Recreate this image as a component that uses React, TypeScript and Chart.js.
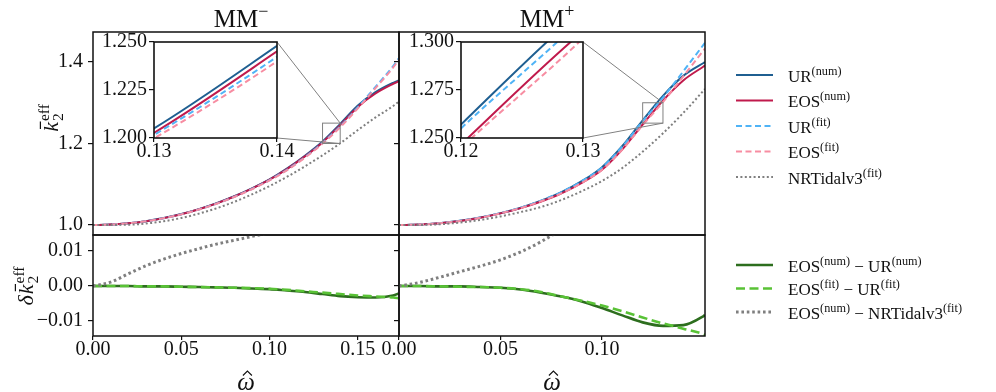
import React, { useEffect, useRef } from "react";
import { Chart, registerables } from "chart.js";

Chart.register(...registerables);

const SERIF = "'Liberation Serif', 'Times New Roman', Times, serif";
Chart.defaults.font.family = SERIF;

// ---------------- DATA ----------------
const OMEGA_MINUS = [0, 0.01, 0.02, 0.03, 0.04, 0.05, 0.06, 0.07, 0.08, 0.09, 0.1, 0.11, 0.12, 0.13, 0.14, 0.15, 0.16, 0.17, 0.1733];
const UR_NUM_MINUS = [1.0, 1.001, 1.0042, 1.0095, 1.017, 1.0268, 1.039, 1.0535, 1.0705, 1.09, 1.112, 1.139, 1.17, 1.205, 1.248, 1.293, 1.326, 1.349, 1.355];
const EOS_NUM_MINUS = [1.0, 1.001, 1.0042, 1.0094, 1.0169, 1.0266, 1.0387, 1.0531, 1.07, 1.0893, 1.1111, 1.1377, 1.1683, 1.2027, 1.2451, 1.2898, 1.3227, 1.3463, 1.3529];
const UR_FIT_MINUS = [1.0, 1.001, 1.0041, 1.0093, 1.0167, 1.0263, 1.0382, 1.0525, 1.0692, 1.0884, 1.1102, 1.136, 1.1665, 1.2016, 1.2423, 1.289, 1.339, 1.39, 1.4095];
const EOS_FIT_MINUS = [1.0, 1.001, 1.0041, 1.0092, 1.0166, 1.0261, 1.0379, 1.0521, 1.0687, 1.0878, 1.1094, 1.1349, 1.165, 1.1998, 1.2399, 1.2862, 1.3359, 1.3866, 1.406];
const NRT_MINUS = [1.0, 1.0002, 1.0007, 1.0036, 1.0091, 1.0173, 1.028, 1.0411, 1.0569, 1.0751, 1.0956, 1.1185, 1.144, 1.171, 1.2005, 1.233, 1.264, 1.292, 1.303];
const DIFF_NUM_MINUS = [0, 0, 0, -0.0001, -0.0001, -0.0002, -0.0003, -0.0004, -0.0005, -0.0007, -0.0009, -0.0013, -0.0017, -0.0023, -0.0029, -0.0032, -0.0033, -0.0027, -0.0021];
const DIFF_FIT_MINUS = [0, 0, 0, -0.0001, -0.0001, -0.0002, -0.0003, -0.0004, -0.0005, -0.0006, -0.0008, -0.0011, -0.0015, -0.0019, -0.0023, -0.0027, -0.003, -0.0033, -0.0035];
const DIFF_NRT_MINUS = [0, 0.0011, 0.0035, 0.0058, 0.0077, 0.0093, 0.0107, 0.012, 0.0131, 0.0142, 0.0155, 0.0192, 0.0243, 0.0317, 0.0446, 0.0568, 0.0587, 0.0543, 0.0499];

const OMEGA_PLUS = [0, 0.01, 0.02, 0.03, 0.04, 0.05, 0.06, 0.07, 0.08, 0.09, 0.1, 0.11, 0.12, 0.13, 0.14, 0.15, 0.1507];
const UR_NUM_PLUS = [1.0, 1.0011, 1.0045, 1.0102, 1.0183, 1.029, 1.0425, 1.0595, 1.0805, 1.1075, 1.142, 1.194, 1.257, 1.317, 1.366, 1.3975, 1.3995];
const EOS_NUM_PLUS = [1.0, 1.0011, 1.0044, 1.0101, 1.018, 1.0285, 1.0415, 1.0576, 1.0775, 1.1031, 1.1357, 1.1856, 1.2466, 1.3056, 1.3548, 1.3889, 1.3912];
const UR_FIT_PLUS = [1.0, 1.0011, 1.0045, 1.0102, 1.0183, 1.0292, 1.0428, 1.06, 1.0808, 1.1075, 1.1413, 1.1925, 1.255, 1.3125, 1.377, 1.4425, 1.447];
const EOS_FIT_PLUS = [1.0, 1.0011, 1.0044, 1.01, 1.018, 1.0287, 1.0419, 1.0583, 1.0778, 1.1033, 1.1357, 1.1853, 1.245, 1.3018, 1.3648, 1.4287, 1.433];
const NRT_PLUS = [1.0, 1.0001, 1.0019, 1.0061, 1.0124, 1.0211, 1.032, 1.0444, 1.0615, 1.083, 1.108, 1.14, 1.18, 1.225, 1.275, 1.33, 1.334];
const DIFF_NUM_PLUS = [0, 0, -0.0001, -0.0001, -0.0003, -0.0005, -0.001, -0.0019, -0.003, -0.0044, -0.0063, -0.0084, -0.0104, -0.0114, -0.0112, -0.0086, -0.0083];
const DIFF_FIT_PLUS = [0, 0, -0.0001, -0.0002, -0.0003, -0.0005, -0.0009, -0.0017, -0.003, -0.0042, -0.0056, -0.0072, -0.009, -0.0107, -0.0122, -0.0138, -0.014];
const DIFF_NRT_PLUS = [0, 0.001, 0.0025, 0.0041, 0.0057, 0.0075, 0.0098, 0.0127, 0.0164, 0.0215, 0.0300, 0.0440, 0.0600, 0.0760, 0.0798, 0.0589, 0.0572];

const TOP_LABELS = ["UR^{(num)}", "EOS^{(num)}", "UR^{(fit)}", "EOS^{(fit)}", "NRTidalv3^{(fit)}"];
const BOTTOM_LABELS = ["EOS^{(num)} \u2212 UR^{(num)}", "EOS^{(fit)} \u2212 UR^{(fit)}", "EOS^{(num)} \u2212 NRTidalv3^{(fit)}"];
const PANEL_TITLES = ["MM^{\u2212}", "MM^{+}"];

const TOP_Y_TICKS = [1.0, 1.2, 1.4];
const BOTTOM_Y_TICKS = [-0.01, 0, 0.01];
const X_TICKS_MINUS = [0, 0.05, 0.1, 0.15];
const X_TICKS_PLUS = [0, 0.05, 0.1];
const INSET_MINUS_X_TICKS = [0.13, 0.14];
const INSET_MINUS_Y_TICKS = [1.2, 1.225, 1.25];
const INSET_PLUS_X_TICKS = [0.12, 0.13];
const INSET_PLUS_Y_TICKS = [1.25, 1.275, 1.3];

const TOP_Y_RANGE = [0.9755, 1.4736];
const BOTTOM_Y_RANGE = [-0.0143, 0.0146];
const X_RANGE_MINUS = [0, 0.1733];
const X_RANGE_PLUS = [0, 0.1507];
const INSET_MINUS_X = [0.13, 0.14];
const INSET_MINUS_Y = [1.2, 1.25];
const INSET_PLUS_X = [0.12, 0.13];
const INSET_PLUS_Y = [1.25, 1.3];

// ---------------- STYLES / LAYOUT ----------------
type St = { color: string; width: number; dash: number[] };
const TOP_STYLES: St[] = [
  { color: "#1f5f91", width: 2, dash: [] },
  { color: "#c01a4c", width: 2, dash: [] },
  { color: "#4fb3f6", width: 2, dash: [6, 3.5] },
  { color: "#f78da2", width: 2, dash: [6, 3.5] },
  { color: "#7f7f7f", width: 2, dash: [2, 2.4] },
];
const BOTTOM_STYLES: St[] = [
  { color: "#2d6e1e", width: 2.6, dash: [] },
  { color: "#59c236", width: 2.6, dash: [9, 4.5] },
  { color: "#7f7f7f", width: 3, dash: [2.6, 2.8] },
];

const TEXT = "#111";
const TICK_FONT = { family: SERIF, size: 20, lineHeight: 1 };

type Area = { l: number; t: number; r: number; b: number };
type Box = { left: number; top: number; width: number; height: number };

const AREA_TL: Area = { l: 93, t: 32, r: 399, b: 235 };
const AREA_TR: Area = { l: 399, t: 32, r: 705, b: 235 };
const AREA_BL: Area = { l: 93, t: 235, r: 399, b: 336 };
const AREA_BR: Area = { l: 399, t: 235, r: 705, b: 336 };
const INSET_BOX_L: Area = { l: 154, t: 42, r: 277, b: 138 };
const INSET_BOX_R: Area = { l: 461, t: 42, r: 583, b: 138 };

const fmt = (v: number, d: number) => (v < -1e-12 ? "\u2212" : "") + Math.abs(v).toFixed(d);

function lineDs(label: string, xs: number[], ys: number[], st: St, order: number) {
  return {
    label,
    data: xs.map((x, i) => ({ x, y: ys[i] })),
    borderColor: st.color,
    backgroundColor: st.color,
    borderWidth: st.width,
    borderDash: st.dash,
    borderCapStyle: "butt",
    pointRadius: 0,
    pointHoverRadius: 0,
    fill: false,
    cubicInterpolationMode: "monotone",
    order,
  };
}

function topSets(xs: number[], series: number[][]) {
  return series.map((ys, i) => lineDs(TOP_LABELS[i], xs, ys, TOP_STYLES[i], series.length - i));
}
function bottomSets(xs: number[], series: number[][]) {
  return series.map((ys, i) => lineDs(BOTTOM_LABELS[i], xs, ys, BOTTOM_STYLES[i], series.length - i));
}

// rich text: "^{...}" = superscript
function richSegs(text: string) {
  return text
    .split(/(\^\{[^}]*\})/)
    .filter((p) => p.length > 0)
    .map((p) => (p.startsWith("^{") ? { t: p.slice(2, -1), sup: true } : { t: p, sup: false }));
}
function drawRich(ctx: CanvasRenderingContext2D, text: string, x: number, y: number, size: number, align: "left" | "center") {
  const segs = richSegs(text);
  const supSize = size * 0.72;
  ctx.save();
  ctx.fillStyle = TEXT;
  ctx.textBaseline = "alphabetic";
  ctx.textAlign = "left";
  const widths = segs.map((s) => {
    ctx.font = `${s.sup ? supSize : size}px ${SERIF}`;
    return ctx.measureText(s.t).width;
  });
  const total = widths.reduce((a, b) => a + b, 0);
  let cx = align === "center" ? x - total / 2 : x;
  segs.forEach((s, i) => {
    ctx.font = `${s.sup ? supSize : size}px ${SERIF}`;
    ctx.fillText(s.t, cx, s.sup ? y - size * 0.4 : y);
    cx += widths[i];
  });
  ctx.restore();
}

function drawYLabel(ctx: CanvasRenderingContext2D, cx: number, cy: number, delta: boolean) {
  const size = 22;
  const small = 15.5;
  ctx.save();
  ctx.translate(cx, cy);
  ctx.rotate(-Math.PI / 2);
  ctx.fillStyle = TEXT;
  ctx.strokeStyle = TEXT;
  ctx.textBaseline = "alphabetic";
  ctx.textAlign = "left";
  const it = `italic ${size}px ${SERIF}`;
  const rm = `${small}px ${SERIF}`;
  ctx.font = it;
  const wd = delta ? ctx.measureText("\u03b4").width + 1 : 0;
  const wk = ctx.measureText("k").width;
  ctx.font = rm;
  const ws = Math.max(ctx.measureText("2").width, ctx.measureText("eff").width);
  const total = wd + wk + 1 + ws;
  let x = -total / 2;
  ctx.font = it;
  if (delta) {
    ctx.fillText("\u03b4", x, 0);
    x += wd;
  }
  ctx.fillText("k", x, 0);
  ctx.lineWidth = 1.2;
  ctx.beginPath();
  ctx.moveTo(x + wk * 0.3, -size * 0.8);
  ctx.lineTo(x + wk * 1.05, -size * 0.8);
  ctx.stroke();
  x += wk + 1;
  ctx.font = rm;
  ctx.fillText("2", x, size * 0.24);
  ctx.fillText("eff", x, -size * 0.42);
  ctx.restore();
}

function drawXLabel(ctx: CanvasRenderingContext2D, cx: number, by: number) {
  const size = 25;
  ctx.save();
  ctx.fillStyle = TEXT;
  ctx.strokeStyle = TEXT;
  ctx.font = `italic ${size}px ${SERIF}`;
  ctx.textBaseline = "alphabetic";
  ctx.textAlign = "center";
  const w = ctx.measureText("\u03c9").width;
  ctx.fillText("\u03c9", cx, by);
  const hx = cx + w * 0.08;
  ctx.lineWidth = 1.1;
  ctx.beginPath();
  ctx.moveTo(hx - 4.5, by - 14.5);
  ctx.lineTo(hx, by - 19);
  ctx.lineTo(hx + 4.5, by - 14.5);
  ctx.stroke();
  ctx.restore();
}

function drawZoom(ctx: CanvasRenderingContext2D, chart: any, xr: number[], yr: number[], inset: Area, ox: number, oy: number) {
  const xs = chart.scales.x;
  const ys = chart.scales.y;
  const x0 = xs.getPixelForValue(xr[0]);
  const x1 = xs.getPixelForValue(xr[1]);
  const y0 = ys.getPixelForValue(yr[1]);
  const y1 = ys.getPixelForValue(yr[0]);
  ctx.save();
  ctx.strokeStyle = "#808080";
  ctx.lineWidth = 1;
  ctx.strokeRect(x0, y0, x1 - x0, y1 - y0);
  ctx.beginPath();
  ctx.moveTo(inset.r - ox, inset.t - oy);
  ctx.lineTo(x1, y0);
  ctx.moveTo(inset.r - ox, inset.b - oy);
  ctx.lineTo(x1, y1);
  ctx.stroke();
  ctx.restore();
}

function drawLegend(ctx: CanvasRenderingContext2D, labels: string[], styles: St[], y0: number, step: number, ox: number, oy: number) {
  labels.forEach((lab, i) => {
    const y = y0 + i * step - oy;
    const st = styles[i];
    ctx.save();
    ctx.strokeStyle = st.color;
    ctx.lineWidth = st.width;
    ctx.setLineDash(st.dash);
    ctx.lineCap = "butt";
    ctx.beginPath();
    ctx.moveTo(736 - ox, y);
    ctx.lineTo(773 - ox, y);
    ctx.stroke();
    ctx.restore();
    drawRich(ctx, lab, 788 - ox, y + 6.5, 17, "left");
  });
}

interface PanelOpts {
  box: Box;
  area: Area;
  datasets: any[];
  xRange: number[];
  yRange: number[];
  xTicks: number[];
  yTicks: number[];
  xDigits: number;
  yDigits: number;
  showXAxis: boolean;
  showYLabels: boolean;
  yPad: number;
  white?: boolean;
  frameWidth: number;
  draw?: (ctx: CanvasRenderingContext2D, chart: any, ox: number, oy: number) => void;
}

function buildConfig(o: PanelOpts) {
  const padTop = o.area.t - o.box.top;
  const padRight = o.box.left + o.box.width - o.area.r;
  const yWidth = o.area.l - o.box.left;
  const below = o.box.top + o.box.height - o.area.b;
  const xHeight = o.showXAxis ? below : 0;
  const padBottom = o.showXAxis ? 0 : below;
  return {
    type: "line",
    data: { datasets: o.datasets },
    options: {
      animation: false,
      responsive: false,
      devicePixelRatio: 1,
      events: [],
      layout: { padding: { top: padTop, right: padRight, bottom: padBottom, left: 0 } },
      plugins: { legend: { display: false }, tooltip: { enabled: false }, title: { display: false } },
      scales: {
        x: {
          type: "linear",
          min: o.xRange[0],
          max: o.xRange[1],
          display: o.showXAxis,
          afterBuildTicks: (s: any) => {
            s.ticks = o.xTicks.map((v) => ({ value: v }));
          },
          afterFit: (s: any) => {
            s.height = xHeight;
            s.paddingLeft = 0;
            s.paddingRight = 0;
          },
          ticks: {
            autoSkip: false,
            maxRotation: 0,
            minRotation: 0,
            padding: 0,
            color: TEXT,
            font: TICK_FONT,
            callback: (v: any) => fmt(Number(v), o.xDigits),
          },
          grid: { drawOnChartArea: false, drawTicks: true, tickLength: 4, color: TEXT, tickColor: TEXT, lineWidth: 1.2, tickWidth: 1.2 },
          border: { display: false },
        },
        y: {
          type: "linear",
          min: o.yRange[0],
          max: o.yRange[1],
          afterBuildTicks: (s: any) => {
            s.ticks = o.yTicks.map((v) => ({ value: v }));
          },
          afterFit: (s: any) => {
            s.width = yWidth;
            s.paddingTop = 0;
            s.paddingBottom = 0;
          },
          ticks: {
            display: o.showYLabels,
            autoSkip: false,
            padding: o.yPad,
            color: TEXT,
            font: TICK_FONT,
            callback: (v: any) => fmt(Number(v), o.yDigits),
          },
          grid: { drawOnChartArea: false, drawTicks: true, tickLength: 5, color: TEXT, tickColor: TEXT, lineWidth: 1.2, tickWidth: 1.2 },
          border: { display: false },
        },
      },
    },
    plugins: [
      {
        id: "deco",
        beforeDraw(chart: any) {
          if (!o.white) return;
          const { ctx, chartArea: a } = chart;
          ctx.save();
          ctx.fillStyle = "#fff";
          ctx.fillRect(a.left, a.top, a.right - a.left, a.bottom - a.top);
          ctx.restore();
        },
        afterDatasetsDraw(chart: any) {
          const { ctx, chartArea: a } = chart;
          ctx.save();
          ctx.strokeStyle = "#111";
          ctx.lineWidth = o.frameWidth;
          ctx.strokeRect(a.left, a.top, a.right - a.left, a.bottom - a.top);
          ctx.restore();
        },
        afterDraw(chart: any) {
          if (o.draw) o.draw(chart.ctx, chart, o.box.left, o.box.top);
        },
      },
    ],
  };
}

function Panel({ opts }: { opts: PanelOpts }) {
  const ref = useRef<HTMLCanvasElement>(null);
  useEffect(() => {
    const chart = new Chart(ref.current as HTMLCanvasElement, buildConfig(opts) as any);
    return () => chart.destroy();
  }, []);
  const b = opts.box;
  return (
    <canvas
      ref={ref}
      width={b.width}
      height={b.height}
      style={{ position: "absolute", left: b.left, top: b.top, width: b.width, height: b.height }}
    />
  );
}

export default function App() {
  const topMinus = topSets(OMEGA_MINUS, [UR_NUM_MINUS, EOS_NUM_MINUS, UR_FIT_MINUS, EOS_FIT_MINUS, NRT_MINUS]);
  const topPlus = topSets(OMEGA_PLUS, [UR_NUM_PLUS, EOS_NUM_PLUS, UR_FIT_PLUS, EOS_FIT_PLUS, NRT_PLUS]);
  const botMinus = bottomSets(OMEGA_MINUS, [DIFF_NUM_MINUS, DIFF_FIT_MINUS, DIFF_NRT_MINUS]);
  const botPlus = bottomSets(OMEGA_PLUS, [DIFF_NUM_PLUS, DIFF_FIT_PLUS, DIFF_NRT_PLUS]);

  const panels: PanelOpts[] = [
    {
      box: { left: 0, top: 0, width: 402, height: 238 },
      area: AREA_TL,
      datasets: topMinus,
      xRange: X_RANGE_MINUS,
      yRange: TOP_Y_RANGE,
      xTicks: X_TICKS_MINUS,
      yTicks: TOP_Y_TICKS,
      xDigits: 2,
      yDigits: 1,
      showXAxis: false,
      showYLabels: true,
      yPad: 5,
      frameWidth: 1.5,
      draw: (ctx, chart, ox, oy) => {
        drawRich(ctx, PANEL_TITLES[0], 241 - ox, 27 - oy, 25, "center");
        drawYLabel(ctx, 58 - ox, 118 - oy, false);
        drawZoom(ctx, chart, INSET_MINUS_X, INSET_MINUS_Y, INSET_BOX_L, ox, oy);
      },
    },
    {
      box: { left: 370, top: 0, width: 626, height: 238 },
      area: AREA_TR,
      datasets: topPlus,
      xRange: X_RANGE_PLUS,
      yRange: TOP_Y_RANGE,
      xTicks: X_TICKS_PLUS,
      yTicks: TOP_Y_TICKS,
      xDigits: 2,
      yDigits: 1,
      showXAxis: false,
      showYLabels: false,
      yPad: 5,
      frameWidth: 1.5,
      draw: (ctx, chart, ox, oy) => {
        drawRich(ctx, PANEL_TITLES[1], 547 - ox, 27 - oy, 25, "center");
        drawZoom(ctx, chart, INSET_PLUS_X, INSET_PLUS_Y, INSET_BOX_R, ox, oy);
        drawLegend(ctx, TOP_LABELS, TOP_STYLES, 75, 25.5, ox, oy);
      },
    },
    {
      box: { left: 0, top: 232, width: 402, height: 160 },
      area: AREA_BL,
      datasets: botMinus,
      xRange: X_RANGE_MINUS,
      yRange: BOTTOM_Y_RANGE,
      xTicks: X_TICKS_MINUS,
      yTicks: BOTTOM_Y_TICKS,
      xDigits: 2,
      yDigits: 2,
      showXAxis: true,
      showYLabels: true,
      yPad: 5,
      frameWidth: 1.5,
      draw: (ctx, chart, ox, oy) => {
        drawYLabel(ctx, 33 - ox, 286 - oy, true);
        drawXLabel(ctx, 246 - ox, 390 - oy);
      },
    },
    {
      box: { left: 370, top: 232, width: 626, height: 160 },
      area: AREA_BR,
      datasets: botPlus,
      xRange: X_RANGE_PLUS,
      yRange: BOTTOM_Y_RANGE,
      xTicks: X_TICKS_PLUS,
      yTicks: BOTTOM_Y_TICKS,
      xDigits: 2,
      yDigits: 2,
      showXAxis: true,
      showYLabels: false,
      yPad: 5,
      frameWidth: 1.5,
      draw: (ctx, chart, ox, oy) => {
        drawXLabel(ctx, 552 - ox, 390 - oy);
        drawLegend(ctx, BOTTOM_LABELS, BOTTOM_STYLES, 265, 23.5, ox, oy);
      },
    },
    {
      box: { left: 94, top: 30, width: 203, height: 136 },
      area: INSET_BOX_L,
      datasets: topSets(OMEGA_MINUS, [UR_NUM_MINUS, EOS_NUM_MINUS, UR_FIT_MINUS, EOS_FIT_MINUS, NRT_MINUS]),
      xRange: INSET_MINUS_X,
      yRange: INSET_MINUS_Y,
      xTicks: INSET_MINUS_X_TICKS,
      yTicks: INSET_MINUS_Y_TICKS,
      xDigits: 2,
      yDigits: 3,
      showXAxis: true,
      showYLabels: true,
      yPad: 2,
      white: true,
      frameWidth: 1.6,
    },
    {
      box: { left: 401, top: 30, width: 202, height: 136 },
      area: INSET_BOX_R,
      datasets: topSets(OMEGA_PLUS, [UR_NUM_PLUS, EOS_NUM_PLUS, UR_FIT_PLUS, EOS_FIT_PLUS, NRT_PLUS]),
      xRange: INSET_PLUS_X,
      yRange: INSET_PLUS_Y,
      xTicks: INSET_PLUS_X_TICKS,
      yTicks: INSET_PLUS_Y_TICKS,
      xDigits: 2,
      yDigits: 3,
      showXAxis: true,
      showYLabels: true,
      yPad: 2,
      white: true,
      frameWidth: 1.6,
    },
  ];

  return (
    <div style={{ position: "fixed", left: 0, top: 0, width: 996, height: 392, background: "#fff", overflow: "hidden" }}>
      {panels.map((p, i) => (
        <Panel key={i} opts={p} />
      ))}
    </div>
  );
}
